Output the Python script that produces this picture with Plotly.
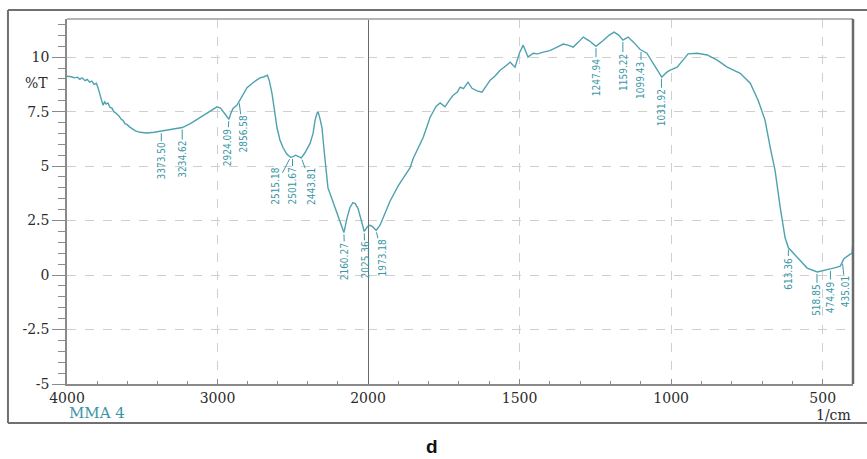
import numpy as np
import plotly.graph_objects as go

# ---- data ----
wavenumber = [4000, 3970, 3950, 3930, 3915, 3900, 3880, 3865, 3850, 3835, 3820, 3805, 3794, 3780, 3770,
              3761, 3750, 3740, 3728, 3715, 3700, 3690, 3681, 3670, 3655, 3640, 3628, 3615, 3600, 3585,
              3568, 3545, 3515, 3470, 3420, 3373, 3300, 3234, 3180, 3116, 3060, 3003, 2980, 2963, 2940,
              2924, 2910, 2897, 2870, 2856, 2830, 2804, 2760, 2718, 2690, 2668, 2655, 2638, 2620, 2605,
              2585, 2565, 2540, 2515, 2501, 2480, 2465, 2443, 2420, 2400, 2385, 2365, 2352, 2340, 2332,
              2320, 2306, 2290, 2266, 2240, 2219, 2190, 2160, 2140, 2120, 2100, 2085, 2066, 2045, 2025,
              2010, 2000, 1993, 1985, 1973, 1960, 1945, 1927, 1900, 1861, 1851, 1835, 1818, 1795, 1775,
              1762, 1746, 1730, 1719, 1705, 1696, 1685, 1670, 1657, 1640, 1624, 1610, 1597, 1580, 1564,
              1550, 1531, 1515, 1500, 1488, 1480, 1472, 1455, 1440, 1422, 1400, 1376, 1356, 1340, 1323,
              1305, 1290, 1270, 1248, 1225, 1205, 1188, 1172, 1159, 1142, 1125, 1102, 1080, 1053, 1031,
              1015, 1003, 980, 960, 944, 914, 881, 848, 815, 772, 739, 713, 690, 673, 657,
              640, 624, 613, 600, 584, 551, 518, 495, 475, 455, 442, 430, 419, 410, 403, 400]
transmittance = [9.12, 9.10, 9.05, 9.08, 8.98, 9.05, 8.92, 8.98, 8.85, 8.90, 8.75, 8.80, 8.60, 8.30, 8.00,
                 7.80, 7.95, 7.85, 7.90, 7.70, 7.65, 7.50, 7.47, 7.40, 7.30, 7.15, 7.10, 6.95, 6.90, 6.80,
                 6.73, 6.62, 6.55, 6.52, 6.55, 6.60, 6.70, 6.77, 6.95, 7.24, 7.50, 7.72, 7.66, 7.52, 7.30,
                 7.15, 7.45, 7.65, 7.80, 7.98, 8.30, 8.60, 8.85, 9.05, 9.10, 9.17, 8.90, 8.34, 7.50, 6.77,
                 6.20, 5.85, 5.55, 5.40, 5.42, 5.50, 5.45, 5.38, 5.60, 5.85, 6.04, 6.50, 7.10, 7.40, 7.50,
                 7.20, 6.77, 5.60, 4.00, 3.50, 3.09, 2.50, 1.95, 2.60, 3.10, 3.32, 3.28, 3.05, 2.50, 2.00,
                 2.15, 2.25, 2.28, 2.22, 2.05, 2.30, 2.80, 3.40, 4.10, 4.93, 5.35, 5.80, 6.31, 7.24, 7.75,
                 7.90, 7.72, 8.05, 8.25, 8.40, 8.62, 8.55, 8.85, 8.57, 8.45, 8.39, 8.70, 8.94, 9.15, 9.40,
                 9.55, 9.77, 9.54, 10.20, 10.55, 10.30, 10.00, 10.18, 10.15, 10.23, 10.30, 10.46, 10.60, 10.55, 10.46,
                 10.70, 10.92, 10.75, 10.50, 10.75, 11.00, 11.15, 11.00, 10.78, 10.92, 10.70, 10.35, 10.18, 9.54, 9.08,
                 9.30, 9.40, 9.54, 9.90, 10.15, 10.18, 10.10, 9.86, 9.54, 9.26, 8.80, 8.02, 7.10, 5.85, 4.79,
                 3.09, 1.71, 1.25, 1.05, 0.78, 0.32, 0.14, 0.20, 0.28, 0.35, 0.41, 0.75, 0.88, 0.95, 1.00, 1.60]

peak_labels = ["3373.50", "3234.62", "2924.09", "2856.58", "2515.18", "2501.67", "2443.81",
               "2160.27", "2025.36", "1973.18", "1247.94", "1159.22", "1099.43", "1031.92",
               "613.36", "518.85", "474.49", "435.01"]
y_ticks = [10, 7.5, 5, 2.5, 0, -2.5, -5]
y_tick_text = ["10", "7.5", "5", "2.5", "0", "-2.5", "-5"]
x_left_ticks = [4000, 3000]
x_right_ticks = [2000, 1500, 1000, 500]

# ---- styling ----
LINE = "#4ea2b0"
LABEL = "#3b96a5"
SERIF = "DejaVu Serif, Liberation Serif, serif"
NARROW = "Liberation Sans Narrow, Arial Narrow, DejaVu Sans Condensed, sans-serif"
TXT = "#2b2b2b"

wn = np.array(wavenumber, dtype=float)
tr = np.array(transmittance, dtype=float)
left = wn >= 2000
right = wn <= 2000

fig = go.Figure()
fig.add_trace(go.Scatter(x=wn[left], y=tr[left], mode="lines", xaxis="x", yaxis="y",
                         line=dict(color=LINE, width=1.4), showlegend=False))
fig.add_trace(go.Scatter(x=wn[right], y=tr[right], mode="lines", xaxis="x2", yaxis="y",
                         line=dict(color=LINE, width=1.4), showlegend=False))

# label offsets (pixels): (ax, ay)
offsets = [(0, 30), (0, 32), (-2, 28), (4, 33), (-15, 29), (0, 29), (11, 29),
           (1, 29), (1, 29), (6, 28), (0, 31), (0, 32), (0, 30), (0, 31),
           (0, 26), (0, 28), (0, 28), (3, 30)]
order = np.argsort(wn)
for lab, (ax, ay) in zip(peak_labels, offsets):
    xv = float(lab)
    yv = float(np.interp(xv, wn[order], tr[order]))
    xr = "x" if xv > 2000 else "x2"
    fig.add_annotation(x=xv, y=yv, xref=xr, yref="y", text=lab, textangle=-90,
                       showarrow=True, arrowhead=0, arrowwidth=1, arrowcolor=LABEL,
                       ax=ax, ay=ay, standoff=2,
                       font=dict(family=NARROW, size=10, color=LABEL))

d = 301 / 786
axis_common = dict(showgrid=True, gridcolor="#cfcfcf", griddash="dash", gridwidth=1,
                   zeroline=False, showline=True, linecolor="#8a8a8a", linewidth=1.5,
                   ticks="inside", ticklen=5, tickcolor="#8a8a8a",
                   tickfont=dict(family=SERIF, size=14, color=TXT))
fig.update_layout(
    width=867, height=459,
    margin=dict(l=67, r=14, t=19, b=75),
    paper_bgcolor="white", plot_bgcolor="white",
    xaxis=dict(domain=[0, d], range=[4000, 2000], anchor="y",
               tickvals=x_left_ticks, ticktext=[str(v) for v in x_left_ticks],
               minor=dict(ticks="inside", ticklen=3, dtick=200, tick0=0, tickcolor="#8a8a8a", showgrid=False),
               **axis_common),
    xaxis2=dict(domain=[d, 1], range=[2000, 400], anchor="y",
                tickvals=x_right_ticks, ticktext=[str(v) for v in x_right_ticks],
                minor=dict(ticks="inside", ticklen=3, dtick=100, tick0=0, tickcolor="#8a8a8a", showgrid=False),
                **axis_common),
    yaxis=dict(range=[-5, 11.75], tickvals=y_ticks, ticktext=y_tick_text,
               showgrid=True, gridcolor="#cfcfcf", griddash="dash", gridwidth=1,
               zeroline=False, showline=True, linecolor="#8a8a8a", linewidth=1.5,
               ticks="outside", ticklen=13, tickcolor="#8a8a8a",
               minor=dict(ticks="outside", ticklen=7, dtick=0.5, tick0=0, tickcolor="#8a8a8a", showgrid=False),
               tickfont=dict(family=SERIF, size=14, color=TXT)),
)

shapes = [
    dict(type="line", xref="x2", yref="y", x0=2000, x1=2000, y0=-5, y1=11.75,
         line=dict(color="#6a6a6a", width=2)),
    dict(type="line", xref="paper", yref="paper", x0=0, x1=1, y0=1, y1=1,
         line=dict(color="#b5b5b5", width=2)),
    dict(type="line", xref="paper", yref="paper", x0=1, x1=1, y0=0, y1=1,
         line=dict(color="#6a6a6a", width=2.5)),
    dict(type="line", xref="paper", yref="paper", x0=-0.0751, x1=1.02, y0=1.0247, y1=1.0247,
         line=dict(color="#707070", width=2)),
    dict(type="line", xref="paper", yref="paper", x0=-0.0751, x1=-0.0751, y0=-0.1068, y1=1.0247,
         line=dict(color="#707070", width=2)),
    dict(type="line", xref="paper", yref="paper", x0=-0.0751, x1=1.02, y0=-0.1068, y1=-0.1068,
         line=dict(color="#707070", width=2)),
]
fig.update_layout(shapes=shapes)

fig.add_annotation(xref="paper", yref="y", x=-0.0216, y=8.8, text="%T", showarrow=False,
                   xanchor="right", yanchor="middle", font=dict(family=SERIF, size=14, color=TXT))
fig.add_annotation(xref="paper", yref="paper", x=0.0, y=-0.08, text="MMA 4", showarrow=False,
                   xanchor="left", yanchor="middle", font=dict(family=SERIF, size=15, color=LABEL))
fig.add_annotation(xref="paper", yref="paper", x=1.0, y=-0.085, text="1/cm", showarrow=False,
                   xanchor="right", yanchor="middle", font=dict(family=SERIF, size=14, color=TXT))
fig.add_annotation(xref="paper", yref="paper", x=0.464, y=-0.203, text="<b>d</b>", showarrow=False,
                   xanchor="center", yanchor="bottom", borderpad=0,
                   font=dict(family="Liberation Sans, Arial, sans-serif", size=19, color="#111111"))

fig.write_html("out.html", config={"displayModeBar": False},
               post_script="document.body.style.margin='0';document.body.style.padding='0';")
